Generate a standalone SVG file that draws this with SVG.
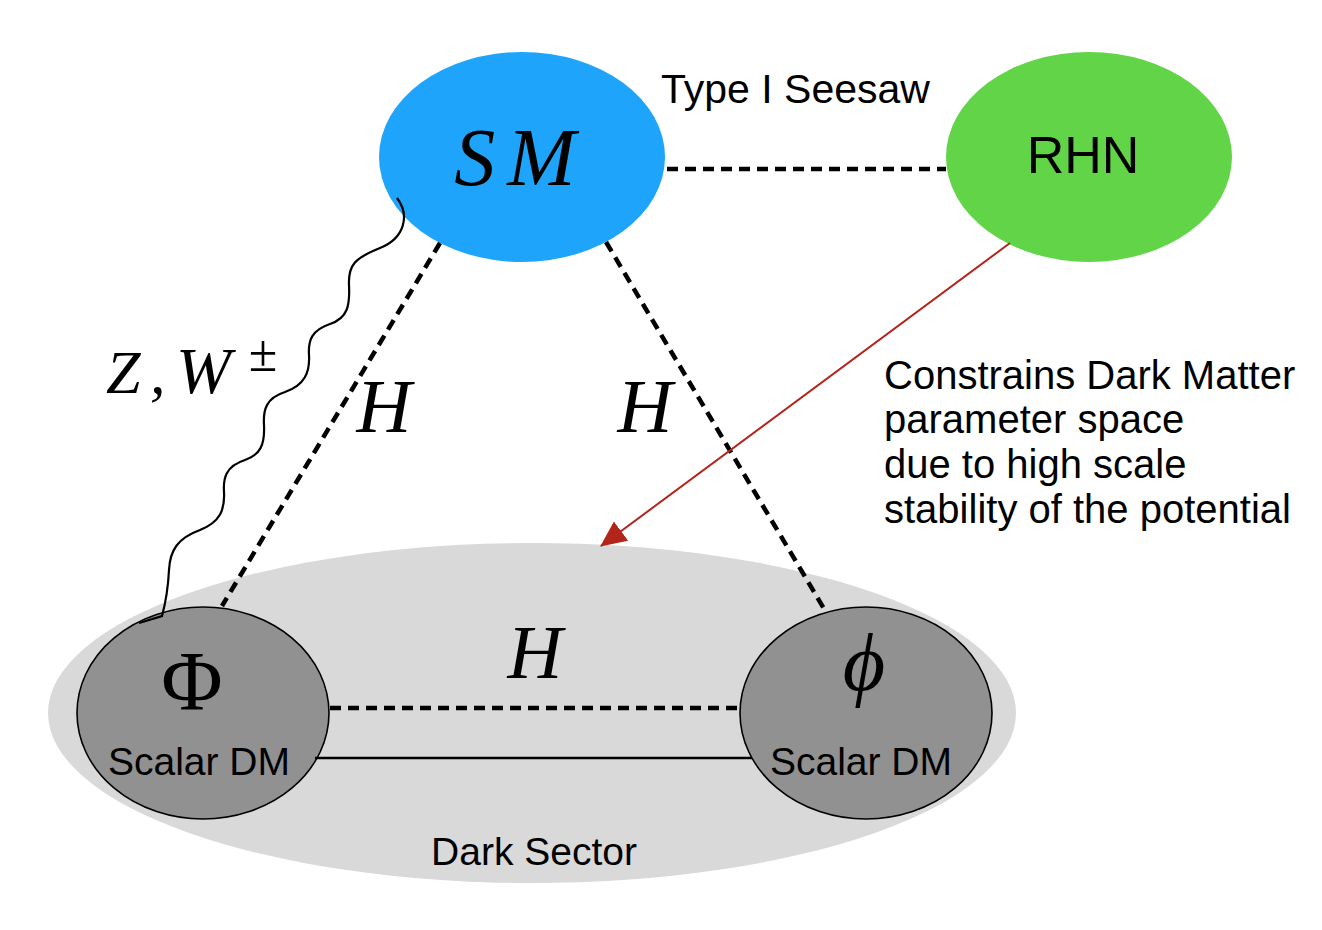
<svg xmlns="http://www.w3.org/2000/svg" width="1322" height="930" viewBox="0 0 1322 930">
<style>
.sans{font-family:"Liberation Sans",Arial,sans-serif;fill:#000}
.math{font-family:"Liberation Serif","Times New Roman",serif;font-style:italic;fill:#000}
.rom{font-family:"Liberation Serif","Times New Roman",serif;fill:#000}
.dash{stroke:#000;stroke-width:4.5;stroke-dasharray:11 7;fill:none}
.node{stroke:#000;stroke-width:1.6}
</style>
<defs>
<marker id="redhead" markerUnits="userSpaceOnUse" markerWidth="26" markerHeight="24" viewBox="0 0 26 24" refX="25" refY="12" orient="auto">
<path d="M0,0 L26,12 L0,24 z" fill="#b3241a"/>
</marker>
</defs>
<rect width="1322" height="930" fill="#fff"/>
<g id="dark-sector">
<ellipse cx="532" cy="713" rx="484" ry="170" fill="#d9d9d9"/>
<text class="sans" x="534" y="865" font-size="39" text-anchor="middle">Dark Sector</text>
</g>
<g id="sm">
<ellipse cx="522" cy="157" rx="143" ry="105" fill="#1ea5fb"/>
<text class="math" x="521" y="185" font-size="82" text-anchor="middle" letter-spacing="12">SM</text>
</g>
<g id="rhn">
<ellipse cx="1089" cy="157" rx="143" ry="105" fill="#62d448"/>
<text class="sans" x="1083" y="173" font-size="52" text-anchor="middle">RHN</text>
</g>
<g id="Phi">
<ellipse class="node" cx="203" cy="713" rx="126" ry="106" fill="#919191"/>
<text class="rom" x="192" y="710" font-size="84" text-anchor="middle">Φ</text>
<text class="sans" x="199" y="775" font-size="39" text-anchor="middle">Scalar DM</text>
</g>
<g id="phi">
<ellipse class="node" cx="866" cy="713" rx="126" ry="106" fill="#919191"/>
<text class="math" x="864" y="690" font-size="82" text-anchor="middle">ϕ</text>
<text class="sans" x="861" y="775" font-size="39" text-anchor="middle">Scalar DM</text>
</g>
<g id="connectors">
<line class="dash" x1="667" y1="169" x2="946" y2="169"/>
<line class="dash" x1="440" y1="243" x2="222" y2="606"/>
<line class="dash" x1="606" y1="242" x2="826" y2="612"/>
<line class="dash" x1="330" y1="708" x2="741" y2="708"/>
<line x1="315" y1="758" x2="752" y2="758" stroke="#000" stroke-width="2.5"/>
<path d="M397,198 C410,215 405,238 380,248 C355,258 348,265 349,285 C350,305 348,318 330,324 C312,330 308,340 309,355 C310,372 305,385 285,392 C266,398 263,410 264,425 C265,445 260,455 245,460 C226,466 223,478 224,492 C225,510 220,522 200,530 C178,538 170,550 169,570 C168,590 165,605 162,616 L139,623" fill="none" stroke="#000" stroke-width="2.2"/>
<line x1="1010" y1="243" x2="601" y2="546" stroke="#b3241a" stroke-width="2" marker-end="url(#redhead)"/>
</g>
<g id="labels">
<text class="sans" x="661" y="103" font-size="41">Type I Seesaw</text>
<text class="math" font-size="62" y="393"><tspan x="106">Z</tspan><tspan x="150">,</tspan><tspan x="176" font-size="66">W</tspan></text>
<text class="rom" x="263" y="371" font-size="52" text-anchor="middle">±</text>
<text class="math" x="384" y="432" font-size="76" text-anchor="middle">H</text>
<text class="math" x="645" y="432" font-size="76" text-anchor="middle">H</text>
<text class="math" x="535" y="678" font-size="76" text-anchor="middle">H</text>
<text class="sans" font-size="40">
<tspan x="884" y="389">Constrains Dark Matter</tspan>
<tspan x="884" y="433">parameter space</tspan>
<tspan x="884" y="478">due to high scale</tspan>
<tspan x="884" y="523">stability of the potential</tspan>
</text>
</g>
</svg>
